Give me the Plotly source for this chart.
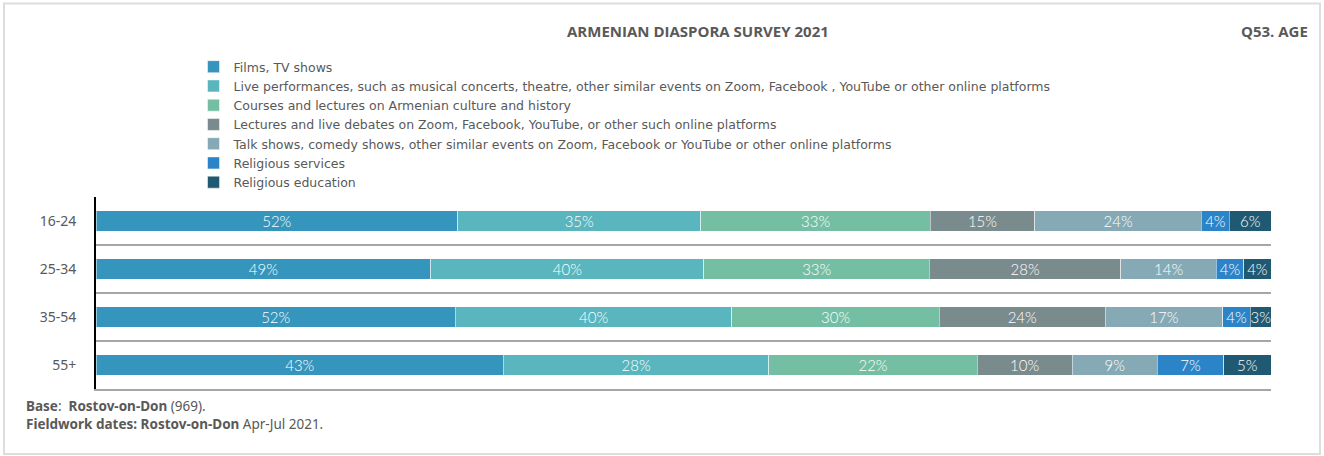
import plotly.graph_objects as go

# Age groups (top to bottom)
ages = ["16-24", "25-34", "35-54", "55+"]

# Series names and values (%)
series = [
    "Films, TV shows",
    "Live performances, such as musical concerts, theatre, other similar events on Zoom, Facebook , YouTube or other online platforms",
    "Courses and lectures on Armenian culture and history",
    "Lectures and live debates on Zoom, Facebook, YouTube, or other such online platforms",
    "Talk shows, comedy shows, other similar events on Zoom, Facebook or YouTube or other online platforms",
    "Religious services",
    "Religious education",
]
films = [52, 49, 52, 43]
live = [35, 40, 40, 28]
courses = [33, 33, 30, 22]
lectures = [15, 28, 24, 10]
talk = [24, 14, 17, 9]
services = [4, 4, 4, 7]
education = [6, 4, 3, 5]
values = [films, live, courses, lectures, talk, services, education]

colors = ["#3595BC", "#59B5BE", "#74BEA4", "#7A8B8D", "#85AAB5", "#2B83C8", "#1F5A72"]

fig = go.Figure()
for name, vals, col in zip(series, values, colors):
    fig.add_trace(go.Bar(
        y=ages,
        x=vals,
        name=name,
        orientation='h',
        marker=dict(color=col, line=dict(width=0.5, color='white')),
        width=0.42,
        text=[str(v) + "%" for v in vals],
        textposition='inside',
        insidetextanchor='middle',
        textangle=0,
        textfont=dict(color='white', size=15, family="Lato", weight=300),
        hoverinfo='skip'
    ))

fig.update_layout(
    width=1324,
    height=456,
    barmode='stack',
    barnorm='percent',
    plot_bgcolor='white',
    paper_bgcolor='white',
    margin=dict(l=96, r=53, t=197, b=67),
    font=dict(family="Noto Sans", color="#595959", size=12),
    uniformtext=dict(minsize=15, mode='show'),
    legend=dict(
        x=0.083, y=1.755, xanchor='left', yanchor='top',
        traceorder='normal', font=dict(size=12.5, color="#595959", family="DejaVu Sans"),
        itemwidth=30, tracegroupgap=0, bgcolor='rgba(0,0,0,0)'
    ),
    xaxis=dict(range=[0, 100], showticklabels=False, showgrid=False, zeroline=False,
               showline=True, linecolor='#A6A6A6', linewidth=1.5, ticks='', fixedrange=True),
    yaxis=dict(
        autorange='reversed',
        tickson='boundaries',
        showgrid=True, gridcolor='#A6A6A6', gridwidth=1.5,
        showline=True, linecolor='black', linewidth=2,
        ticks='', ticklabelstandoff=15,
        tickfont=dict(size=14, color="#595959"),
        zeroline=False
    ),
    shapes=[dict(
        type='rect', xref='paper', yref='paper',
        x0=-0.0783, x1=1.0417, y0=-0.3385, y1=2.008,
        line=dict(color='#DDDDDD', width=2), layer='below'
    )],
    annotations=[
        dict(text="<b>ARMENIAN DIASPORA SURVEY 2021</b>", xref='paper', yref='paper',
             x=0.512, y=1.865, xanchor='center', yanchor='middle', showarrow=False,
             font=dict(size=15, color="#595959", family="Open Sans")),
        dict(text="<b>Q53. AGE</b>", xref='paper', yref='paper',
             x=1.033, y=1.865, xanchor='right', yanchor='middle', showarrow=False,
             font=dict(size=15, color="#595959", family="Open Sans")),
        dict(text="<b>Base</b>:  <b>Rostov-on-Don</b> (969).<br><b>Fieldwork dates: Rostov-on-Don</b> Apr-Jul 2021.",
             xref='paper', yref='paper', x=-0.0615, y=-0.03, xanchor='left', yanchor='top',
             align='left', showarrow=False,
             font=dict(size=13.5, color="#595959"))
    ]
)

fig.write_html("out.html", config={'displayModeBar': False},
               post_script="document.body.style.margin='0px';")
